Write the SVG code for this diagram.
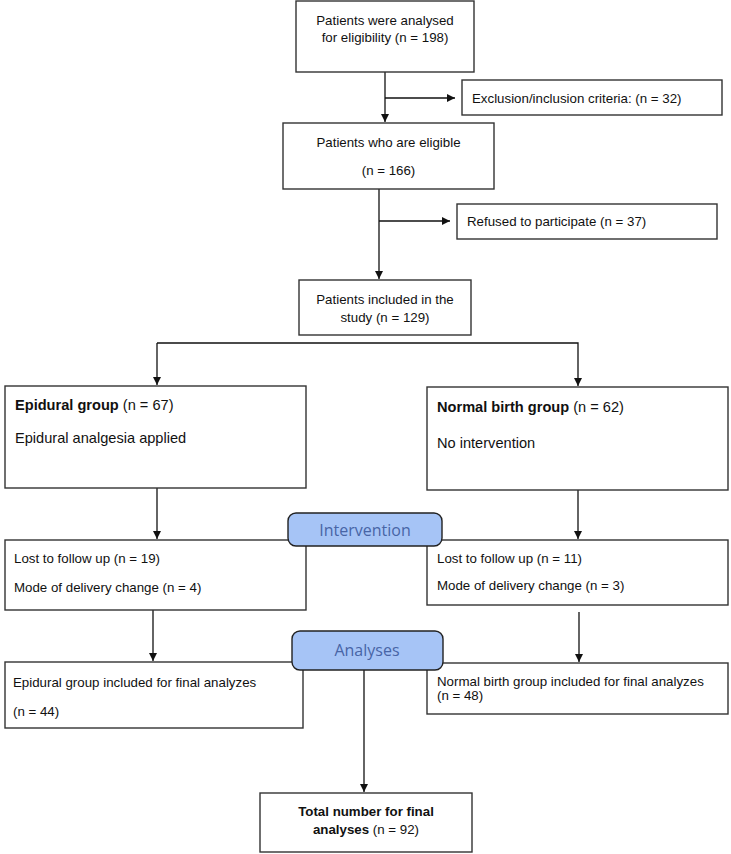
<svg xmlns="http://www.w3.org/2000/svg" width="731" height="854" viewBox="0 0 731 854">
<defs>
<marker id="ah" markerUnits="userSpaceOnUse" markerWidth="9" markerHeight="9" refX="8" refY="4" orient="auto">
<path d="M0,0 L8,4 L0,8 z" fill="#111"/>
</marker>
<style>
.box{fill:#fff;stroke:#333;stroke-width:1.4}
.pill{fill:#a6c4f6;stroke:#222;stroke-width:1.4}
.t{font-family:"Liberation Sans",Arial,sans-serif;font-size:13.3px;fill:#111}
.g{font-family:"Liberation Sans",Arial,sans-serif;font-size:14.6px;fill:#111}
.b{font-weight:bold}
.p{font-family:"Open Sans","Noto Sans",sans-serif;font-size:16px;fill:#4865a6;text-anchor:middle}
.c{text-anchor:middle}
.ln{fill:none;stroke:#111;stroke-width:1.3}
</style>
</defs>
<rect width="731" height="854" fill="#fff"/>

<g id="connectors">
<path class="ln" d="M385,72 V122" marker-end="url(#ah)"/>
<path class="ln" d="M385,98 H455" marker-end="url(#ah)"/>
<path class="ln" d="M379,189 V279" marker-end="url(#ah)"/>
<path class="ln" d="M379,221 H450" marker-end="url(#ah)"/>
<path class="ln" d="M157,343 H578 V386" marker-end="url(#ah)"/>
<path class="ln" d="M157,343 V385" marker-end="url(#ah)"/>
<path class="ln" d="M157,488 V539" marker-end="url(#ah)"/>
<path class="ln" d="M578,490 V539" marker-end="url(#ah)"/>
<path class="ln" d="M153,610 V661" marker-end="url(#ah)"/>
<path class="ln" d="M579,612 V662" marker-end="url(#ah)"/>
<path class="ln" d="M364,670 V792" marker-end="url(#ah)"/>
</g>

<g id="n-analysed">
<rect class="box" x="296" y="1" width="178" height="71"/>
<text class="t c" x="385" y="25">Patients were analysed</text>
<text class="t c" x="385" y="42">for eligibility (n = 198)</text>
</g>

<g id="n-exclusion">
<rect class="box" x="462" y="80" width="260" height="35"/>
<text class="t" x="472" y="103">Exclusion/inclusion criteria: (n = 32)</text>
</g>

<g id="n-eligible">
<rect class="box" x="283" y="123" width="211" height="66"/>
<text class="t c" x="388.5" y="147">Patients who are eligible</text>
<text class="t c" x="388.5" y="175">(n = 166)</text>
</g>

<g id="n-refused">
<rect class="box" x="457" y="204" width="260" height="35"/>
<text class="t" x="467" y="226">Refused to participate (n = 37)</text>
</g>

<g id="n-included">
<rect class="box" x="299" y="280" width="172" height="55"/>
<text class="t c" x="385" y="304">Patients included in the</text>
<text class="t c" x="385" y="322">study (n = 129)</text>
</g>

<g id="n-epidural">
<rect class="box" x="5" y="386" width="301" height="102"/>
<text class="g" x="15" y="410"><tspan class="b">Epidural group</tspan> (n = 67)</text>
<text class="g" x="15" y="443">Epidural analgesia applied</text>
</g>

<g id="n-normal">
<rect class="box" x="427" y="387" width="301" height="103"/>
<text class="g" x="437" y="412"><tspan class="b">Normal birth group</tspan> (n = 62)</text>
<text class="g" x="437" y="448">No intervention</text>
</g>

<g id="n-lost-epidural">
<rect class="box" x="5" y="540" width="301" height="70"/>
<text class="t" x="14" y="563">Lost to follow up (n = 19)</text>
<text class="t" x="14" y="592">Mode of delivery change (n = 4)</text>
</g>

<g id="n-lost-normal">
<rect class="box" x="427" y="540" width="301" height="65"/>
<text class="t" x="437" y="563">Lost to follow up (n = 11)</text>
<text class="t" x="437" y="590">Mode of delivery change (n = 3)</text>
</g>

<g id="n-intervention">
<rect class="pill" x="288" y="513" width="154" height="33" rx="8"/>
<text class="p" x="365" y="535.5">Intervention</text>
</g>

<g id="n-final-epidural">
<rect class="box" x="5" y="662" width="298" height="66"/>
<text class="t" x="13" y="687">Epidural group included for final analyzes</text>
<text class="t" x="13" y="716">(n = 44)</text>
</g>

<g id="n-final-normal">
<rect class="box" x="427" y="663" width="301" height="51"/>
<text class="t" x="437" y="686">Normal birth group included for final analyzes</text>
<text class="t" x="437" y="700">(n = 48)</text>
</g>

<g id="n-analyses">
<rect class="pill" x="292" y="631" width="151" height="39" rx="8"/>
<text class="p" x="367" y="656">Analyses</text>
</g>

<g id="n-total">
<rect class="box" x="260" y="793" width="212" height="59"/>
<text class="t c b" x="366" y="816">Total number for final</text>
<text class="t c" x="366" y="834"><tspan class="b">analyses</tspan> (n = 92)</text>
</g>
</svg>
